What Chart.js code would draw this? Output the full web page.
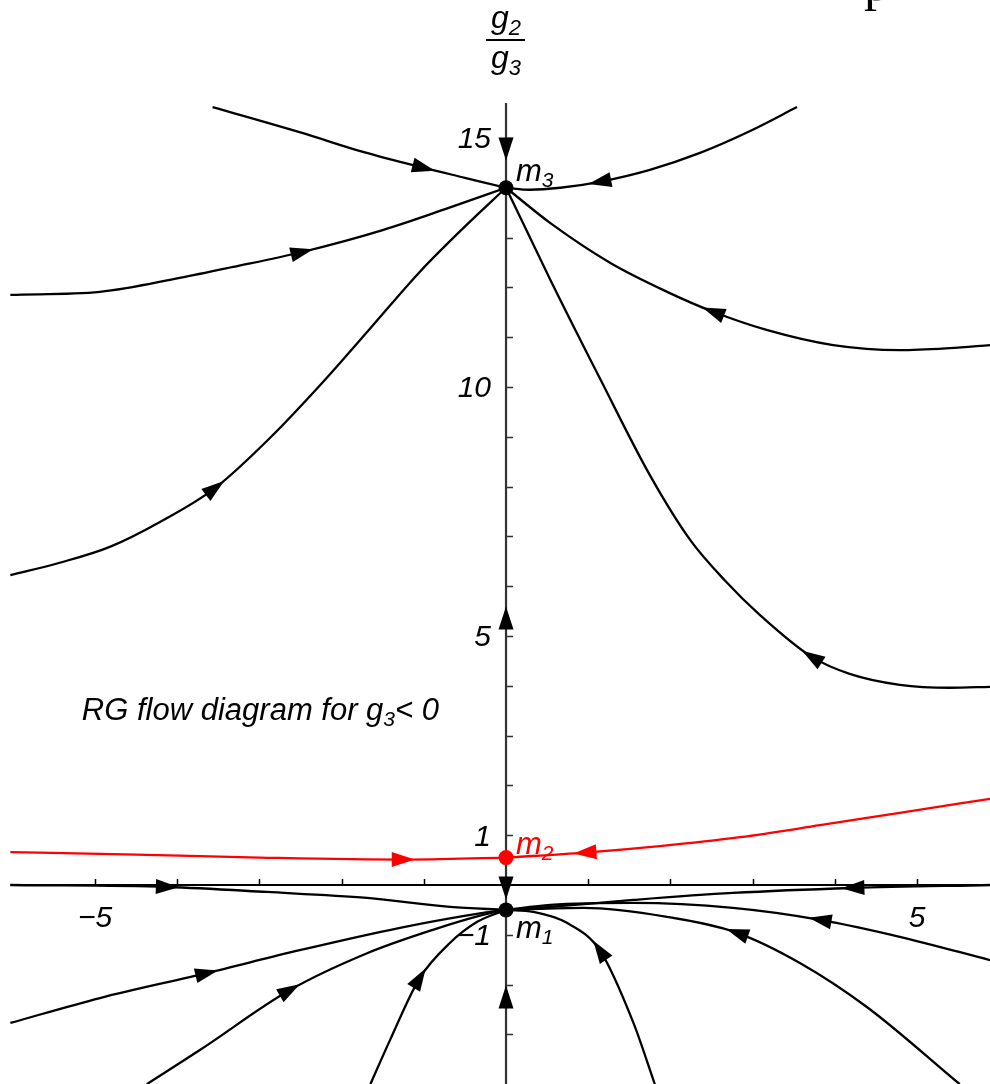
<!DOCTYPE html>
<html>
<head>
<meta charset="utf-8">
<title>RG flow diagram</title>
<script src="https://cdn.jsdelivr.net/npm/chart.js@4.4.0/dist/chart.umd.min.js"></script>
<style>
  html, body { margin: 0; padding: 0; background: #fff; }
  canvas { display: block; }
</style>
</head>
<body>
<canvas id="flowChart" width="990" height="1084"></canvas>
<script>
// plot window: g2 across, g2/g3 up
const xMin = -6.156, xMax = 5.888;
const yMin = -3.996, yMax = 17.77;
const xStart = -6.03;      // where the drawn region starts on the left
const yAxisTop = 15.7;

const xTickLabels = [-5, 5];
const yTickLabels = [15, 10, 5, 1, -1];

// fixed points on the g2 = 0 line
const fixedPointLabels = ['m1', 'm2', 'm3'];
const fixedPointX = [0, 0, 0];
const fixedPointY = [-0.5, 0.55, 14];

// trajectories, each one listed in the direction of the flow
const topLeftToM3 = [[-3.57, 15.62], [-2.48, 15.10], [-1.74, 14.72], [-1.00, 14.40], [-0.50, 14.20], [0, 14]];
const topRightToM3 = [[3.54, 15.62], [2.97, 15.14], [2.36, 14.70], [1.75, 14.36], [1.14, 14.12], [0.66, 14.0], [0.29, 13.96], [0, 14]];
const leftToM3 = [[-6.03, 11.85], [-4.94, 11.91], [-3.97, 12.19], [-3.32, 12.41], [-2.48, 12.71], [-1.50, 13.15], [-0.74, 13.57], [0, 14]];
const lowerLeftToM3 = [[-6.03, 6.22], [-5.43, 6.47], [-4.82, 6.79], [-4.21, 7.29], [-3.54, 7.97], [-2.87, 8.98], [-2.26, 10.04], [-1.65, 11.18], [-1.05, 12.31], [-0.52, 13.19], [0, 14]];
const rightToM3 = [[5.89, 10.84], [5.40, 10.78], [4.79, 10.74], [3.98, 10.84], [3.18, 11.14], [2.52, 11.51], [1.96, 11.91], [1.27, 12.49], [0.54, 13.29], [0, 14]];
const lowerRightToM3 = [[5.89, 3.98], [5.40, 3.96], [4.79, 4.02], [4.18, 4.24], [3.72, 4.58], [3.09, 5.42], [2.66, 6.12], [2.24, 6.93], [1.75, 8.23], [1.14, 10.18], [0.54, 12.15], [0, 14]];

// separatrix through m2
const separatrixLeft = [[-6.03, 0.66], [-4.5, 0.61], [-3.0, 0.55], [-1.25, 0.51], [0, 0.55]];
const separatrixRight = [[5.89, 1.73], [4.79, 1.45], [3.82, 1.20], [2.85, 0.96], [1.87, 0.78], [0.96, 0.65], [0, 0.55]];

// basin of m1
const axisLeftToM1 = [[-6.03, 0], [-4.12, -0.04], [-2.91, -0.14], [-1.69, -0.26], [-0.68, -0.44], [0, -0.5]];
const belowLeftToM1 = [[-6.03, -2.77], [-4.94, -2.27], [-3.64, -1.77], [-2.51, -1.31], [-1.29, -0.86], [-0.28, -0.56], [0, -0.5]];
const bottomLeftToM1 = [[-4.37, -4.0], [-3.72, -3.31], [-2.63, -2.11], [-1.69, -1.37], [-0.89, -0.90], [-0.28, -0.60], [0, -0.5]];
const steepLeftToM1 = [[-1.65, -4.0], [-1.41, -3.11], [-1.05, -1.87], [-0.68, -1.16], [-0.35, -0.74], [0, -0.5]];
const axisRightToM1 = [[5.89, 0], [4.22, -0.06], [2.76, -0.16], [1.55, -0.30], [0.54, -0.44], [0, -0.5]];
const belowRightToM1 = [[5.89, -1.51], [4.79, -1.04], [3.82, -0.70], [2.76, -0.46], [1.55, -0.36], [0.54, -0.40], [0, -0.5]];
const bottomRightToM1 = [[5.52, -4.0], [4.39, -2.45], [3.58, -1.57], [2.81, -0.96], [1.96, -0.64], [0.94, -0.46], [0, -0.5]];
const steepRightToM1 = [[1.81, -4.0], [1.55, -2.77], [1.14, -1.31], [0.74, -0.76], [0.33, -0.54], [0, -0.5]];

// arrows sitting on the g2 = 0 axis (+1 = upward flow)
const axisArrowY = [14.78, 5.36, -0.06, -2.25];
const axisArrowDir = [-1, 1, -1, 1];

// which point of each trajectory carries the arrowhead
const trajectories = [
  { pts: topLeftToM3, arrow: 3 },
  { pts: topRightToM3, arrow: 4 },
  { pts: leftToM3, arrow: 4 },
  { pts: lowerLeftToM3, arrow: 4 },
  { pts: rightToM3, arrow: 5 },
  { pts: lowerRightToM3, arrow: 4 },
  { pts: separatrixLeft, arrow: 3, red: true },
  { pts: separatrixRight, arrow: 5, red: true },
  { pts: axisLeftToM1, arrow: 1 },
  { pts: belowLeftToM1, arrow: 2 },
  { pts: bottomLeftToM1, arrow: 2 },
  { pts: steepLeftToM1, arrow: 2 },
  { pts: axisRightToM1, arrow: 1 },
  { pts: belowRightToM1, arrow: 2 },
  { pts: bottomRightToM1, arrow: 3 },
  { pts: steepRightToM1, arrow: 2 }
];

const RED = '#f00';
const FONT = '"Liberation Sans", Arial, sans-serif';

const datasets = [{
  label: 'fixed points',
  data: fixedPointX.map((x, i) => ({ x: x, y: fixedPointY[i] })),
  pointRadius: 7.5,
  pointHoverRadius: 7.5,
  pointBorderWidth: 0,
  pointBackgroundColor: ['#000', RED, '#000'],
  showLine: false,
  order: 0
}];
trajectories.forEach(t => {
  datasets.push({
    data: t.pts.map(p => ({ x: p[0], y: p[1] })),
    showLine: true,
    borderColor: t.red ? RED : '#000',
    borderWidth: 2.3,
    cubicInterpolationMode: 'monotone',
    pointRadius: 0,
    order: 1
  });
});

function arrowHead(ctx, cx, cy, ux, uy, color) {
  const len = 23, half = 7.5;
  const n = Math.hypot(ux, uy) || 1;
  ux /= n; uy /= n;
  const tx = cx + ux * len / 2, ty = cy + uy * len / 2;
  const bx = cx - ux * len / 2, by = cy - uy * len / 2;
  ctx.fillStyle = color;
  ctx.beginPath();
  ctx.moveTo(tx, ty);
  ctx.lineTo(bx - uy * half, by + ux * half);
  ctx.lineTo(bx + uy * half, by - ux * half);
  ctx.closePath();
  ctx.fill();
}

// text with a lowered index, returns the width used
function subText(ctx, base, sub, x, y, size, subSize, color) {
  ctx.fillStyle = color;
  ctx.font = `italic ${size}px ${FONT}`;
  ctx.fillText(base, x, y);
  const w = ctx.measureText(base).width;
  ctx.font = `italic ${subSize}px ${FONT}`;
  ctx.fillText(sub, x + w, y + subSize * 0.3);
  return w + ctx.measureText(sub).width;
}

const flowDecor = {
  id: 'flowDecor',
  beforeDatasetsDraw(chart) {
    const { ctx, scales: { x, y } } = chart;
    const x0 = x.getPixelForValue(0), y0 = y.getPixelForValue(0);
    ctx.save();
    // g2 axis
    ctx.strokeStyle = '#000';
    ctx.lineWidth = 2;
    ctx.beginPath();
    ctx.moveTo(x.getPixelForValue(xStart), y0);
    ctx.lineTo(x.right, y0);
    ctx.stroke();
    ctx.lineWidth = 1.5;
    ctx.beginPath();
    for (let v = -5; v <= 5; v++) {
      if (v === 0) continue;
      const px = Math.round(x.getPixelForValue(v)) + 0.5;
      ctx.moveTo(px, y0);
      ctx.lineTo(px, y0 - 6);
    }
    ctx.stroke();
    // g2/g3 axis
    ctx.strokeStyle = '#333';
    ctx.lineWidth = 2.2;
    ctx.beginPath();
    ctx.moveTo(x0, y.getPixelForValue(yAxisTop));
    ctx.lineTo(x0, y.bottom);
    ctx.stroke();
    ctx.lineWidth = 1.5;
    ctx.beginPath();
    for (let v = -3; v <= 15; v++) {
      if (v === 0) continue;
      const py = Math.round(y.getPixelForValue(v)) + 0.5;
      ctx.moveTo(x0, py);
      ctx.lineTo(x0 + 7, py);
    }
    ctx.stroke();
    ctx.restore();
  },
  afterDatasetsDraw(chart) {
    const { ctx, scales: { x, y } } = chart;
    const x0 = x.getPixelForValue(0), y0 = y.getPixelForValue(0);
    ctx.save();

    // arrowheads along the trajectories, pointing along the tangent
    trajectories.forEach((t, i) => {
      const meta = chart.getDatasetMeta(i + 1);
      const el = meta.data[t.arrow];
      const dx = el.cp2x - el.cp1x, dy = el.cp2y - el.cp1y;
      arrowHead(ctx, el.x, el.y, dx, dy, t.red ? RED : '#000');
    });
    axisArrowY.forEach((v, i) => {
      arrowHead(ctx, x0, y.getPixelForValue(v), 0, -axisArrowDir[i], '#000');
    });

    // tick labels
    ctx.fillStyle = '#000';
    ctx.font = `italic 30px ${FONT}`;
    ctx.textAlign = 'center';
    ctx.textBaseline = 'top';
    xTickLabels.forEach(v => {
      const s = v < 0 ? '\u2212' + Math.abs(v) : String(v);
      ctx.fillText(s, x.getPixelForValue(v), y0 + 19);
    });
    ctx.textAlign = 'right';
    ctx.textBaseline = 'middle';
    yTickLabels.forEach(v => {
      const s = v < 0 ? '\u2212' + Math.abs(v) : String(v);
      ctx.fillText(s, x0 - 15, y.getPixelForValue(v) + 2);
    });

    // fixed point names
    ctx.textAlign = 'left';
    ctx.textBaseline = 'alphabetic';
    const nameOffset = [28, -4, -7];
    fixedPointLabels.forEach((name, i) => {
      const px = x.getPixelForValue(fixedPointX[i]) + 10;
      const py = y.getPixelForValue(fixedPointY[i]) + nameOffset[i];
      subText(ctx, name[0], name.slice(1), px, py, 31, 21, i === 1 ? RED : '#000');
    });

    // caption
    let cx = x.getPixelForValue(-5.16);
    const cy = y.getPixelForValue(3.31);
    cx += subText(ctx, 'RG flow diagram for g', '3', cx, cy, 31, 21, '#000');
    ctx.font = `italic 31px ${FONT}`;
    ctx.fillText('< 0', cx, cy);

    // axis title g2 / g3
    ctx.font = `italic 32px ${FONT}`;
    const gw = ctx.measureText('g').width;
    ctx.font = `italic 22px ${FONT}`;
    const tw = gw + ctx.measureText('2').width;
    subText(ctx, 'g', '2', x0 - tw / 2, 28, 32, 22, '#000');
    subText(ctx, 'g', '3', x0 - tw / 2, 68, 32, 22, '#000');
    ctx.strokeStyle = '#000';
    ctx.lineWidth = 2;
    ctx.beginPath();
    ctx.moveTo(x0 - 20, 40);
    ctx.lineTo(x0 + 19, 40);
    ctx.stroke();

    // leftover glyph tail at the top edge
    ctx.font = `52px "Liberation Serif", serif`;
    ctx.fillText('p', 864, 0);
    ctx.restore();
  }
};

new Chart(document.getElementById('flowChart'), {
  type: 'scatter',
  data: { datasets },
  options: {
    responsive: false,
    animation: false,
    events: [],
    layout: { padding: 0, autoPadding: false },
    plugins: { legend: { display: false }, tooltip: { enabled: false } },
    scales: {
      x: { type: 'linear', min: xMin, max: xMax, display: false },
      y: { type: 'linear', min: yMin, max: yMax, display: false }
    }
  },
  plugins: [flowDecor]
});
</script>
</body>
</html>
